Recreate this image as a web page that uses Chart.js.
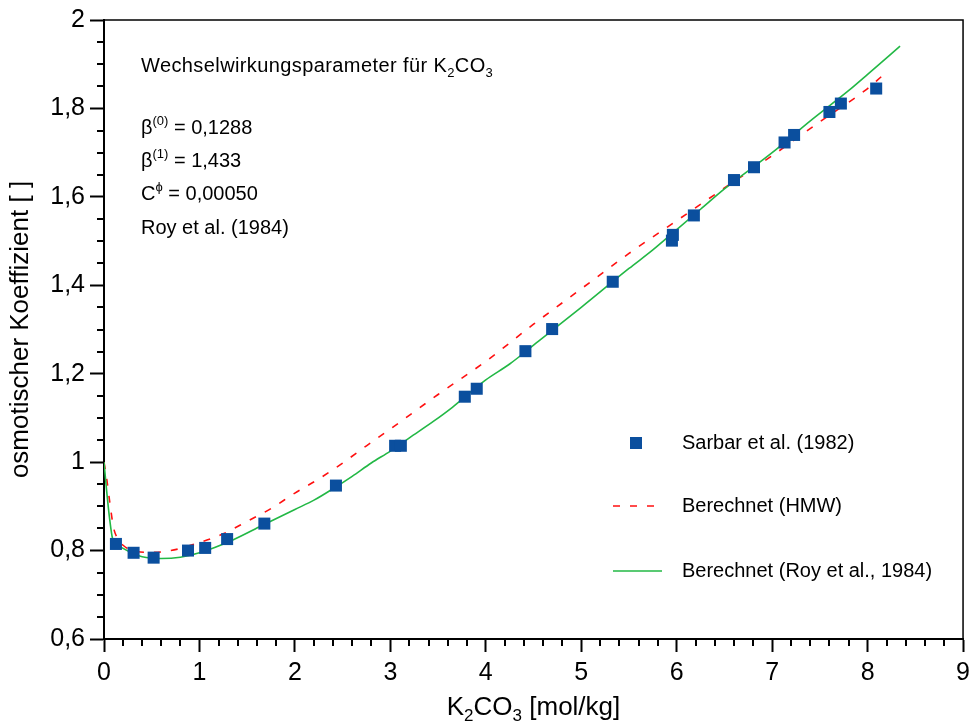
<!DOCTYPE html>
<html>
<head>
<meta charset="utf-8">
<script src="https://cdn.jsdelivr.net/npm/chart.js@4.4.1/dist/chart.umd.min.js"></script>
<style>
  html, body { margin: 0; padding: 0; background: #fff; }
</style>
</head>
<body>
<canvas id="chart" width="976" height="724"></canvas>
<script>
// ===== data
const sarbarX = [0.125, 0.31, 0.52, 0.88, 1.06, 1.29, 1.68, 2.43, 3.05, 3.11, 3.78, 3.905, 4.415, 4.695, 5.33, 5.95, 5.96, 6.18, 6.60, 6.81, 7.13, 7.23, 7.60, 7.72, 8.09];
const sarbarY = [0.815, 0.795, 0.784, 0.800, 0.806, 0.826, 0.861, 0.947, 1.037, 1.037, 1.148, 1.166, 1.251, 1.301, 1.408, 1.501, 1.514, 1.558, 1.638, 1.667, 1.723, 1.740, 1.792, 1.811, 1.845];

const hmwX = [0, 0.03, 0.06, 0.1, 0.15, 0.2, 0.3, 0.5, 0.7, 1.0, 1.25, 1.5, 1.75, 2.0, 2.25, 2.5, 2.75, 3.0, 3.5, 4.0, 4.5, 5.0, 5.5, 6.0, 6.5, 7.0, 7.5, 8.0, 8.15];
const hmwY = [1.0, 0.96, 0.91, 0.852, 0.825, 0.812, 0.800, 0.796, 0.800, 0.818, 0.838, 0.866, 0.895, 0.930, 0.962, 0.998, 1.037, 1.075, 1.153, 1.228, 1.312, 1.392, 1.472, 1.546, 1.620, 1.693, 1.770, 1.845, 1.873];

const royX = [0, 0.03, 0.06, 0.09, 0.15, 0.2, 0.3, 0.4, 0.6, 0.8, 1.0, 1.35, 1.65, 2.0, 2.2, 2.4, 2.6, 2.8, 3.0, 3.2, 3.45, 3.65, 4.0, 4.25, 4.55, 5.0, 5.5, 5.75, 6.0, 6.25, 6.5, 7.0, 7.4, 7.8, 8.0, 8.34];
const royY = [1.0, 0.93, 0.87, 0.827, 0.812, 0.805, 0.794, 0.786, 0.782, 0.785, 0.795, 0.824, 0.856, 0.893, 0.914, 0.940, 0.968, 0.998, 1.025, 1.055, 1.092, 1.124, 1.186, 1.222, 1.273, 1.350, 1.438, 1.480, 1.526, 1.572, 1.618, 1.700, 1.772, 1.840, 1.877, 1.941];

const legendLabels = ["Sarbar et al. (1982)", "Berechnet (HMW)", "Berechnet (Roy et al., 1984)"];

const xMin = 0, xMax = 9, xStep = 0.2;
const yMin = 0.6, yMax = 2, yStep = 0.05;

const BLUE = "#0B4F9E";
const RED = "#FF1010";
const GREEN = "#22B845";
const FONT = "'Liberation Sans', Arial, sans-serif";

const toPts = (xs, ys) => xs.map((x, i) => ({ x, y: ys[i] }));

// ===== helpers
const isMajorX = (v) => Math.abs(v - Math.round(v)) < 1e-6;
const isMajorY = (v) => Math.abs(v * 5 - Math.round(v * 5)) < 1e-6;
const fmtY = (v) => String(Math.round(v * 10) / 10).replace(".", ",");

// draw a row of text pieces: [text, size, dy]
function drawRuns(ctx, x, y, runs, align, spacing) {
    ctx.letterSpacing = (spacing || 0) + "px";
    const widths = runs.map(([t, s]) => {
        ctx.font = s + "px " + FONT;
        return ctx.measureText(t).width;
    });
    const total = widths.reduce((a, b) => a + b, 0);
    let cx = align === "center" ? x - total / 2 : x;
    ctx.textAlign = "left";
    ctx.textBaseline = "alphabetic";
    runs.forEach(([t, s, dy], i) => {
        ctx.font = s + "px " + FONT;
        ctx.fillText(t, cx, y + (dy || 0));
        cx += widths[i];
    });
    ctx.letterSpacing = "0px";
}

// ===== extras: minor ticks, frame, notes, legend, x title
const extras = {
    id: "extras",
    afterDraw(chart) {
        const { ctx, chartArea: a, scales } = chart;
        ctx.save();
        ctx.strokeStyle = "#000";

        // minor ticks
        ctx.lineWidth = 2;
        ctx.beginPath();
        scales.x.ticks.forEach((t) => {
            if (isMajorX(t.value)) return;
            const px = Math.round(scales.x.getPixelForValue(t.value));
            ctx.moveTo(px, a.bottom);
            ctx.lineTo(px, a.bottom + 7);
        });
        scales.y.ticks.forEach((t) => {
            if (isMajorY(t.value)) return;
            const py = Math.round(scales.y.getPixelForValue(t.value));
            ctx.moveTo(a.left, py);
            ctx.lineTo(a.left - 7, py);
        });
        ctx.stroke();

        // top + right frame
        ctx.lineWidth = 1.5;
        ctx.beginPath();
        ctx.moveTo(a.left, a.top);
        ctx.lineTo(a.right, a.top);
        ctx.lineTo(a.right, a.bottom);
        ctx.stroke();

        // parameter notes
        ctx.fillStyle = "#000";
        drawRuns(ctx, 141, 72, [["Wechselwirkungsparameter für K", 20], ["2", 13, 5], ["CO", 20], ["3", 13, 5]], "left", 0.4);
        drawRuns(ctx, 141, 134, [["β", 20], ["(0)", 13, -9], [" = 0,1288", 20]]);
        drawRuns(ctx, 141, 167, [["β", 20], ["(1)", 13, -9], [" = 1,433", 20]]);
        drawRuns(ctx, 141, 200, [["C", 20], ["ϕ", 13, -9], [" = 0,00050", 20]]);
        drawRuns(ctx, 141, 234, [["Roy et al. (1984)", 20]]);

        // legend
        const ds = chart.data.datasets;
        const rows = [443, 506, 571];
        ctx.fillStyle = ds[0].backgroundColor;
        ctx.fillRect(630, rows[0] - 6, 12, 12);
        [1, 2].forEach((k) => {
            ctx.beginPath();
            ctx.strokeStyle = ds[k].borderColor;
            ctx.lineWidth = ds[k].borderWidth;
            ctx.setLineDash(ds[k].borderDash || []);
            ctx.moveTo(613, rows[k]);
            ctx.lineTo(662, rows[k]);
            ctx.stroke();
        });
        ctx.setLineDash([]);
        ctx.fillStyle = "#000";
        ctx.font = "20px " + FONT;
        ctx.textAlign = "left";
        ctx.textBaseline = "middle";
        legendLabels.forEach((lbl, i) => ctx.fillText(lbl, 682, rows[i]));

        // x axis title with subscripts
        drawRuns(ctx, (a.left + a.right) / 2, 715,
            [["K", 26], ["2", 17, 6], ["CO", 26], ["3", 17, 6], [" [mol/kg]", 26]], "center");

        ctx.restore();
    },
};

Chart.defaults.font.family = FONT;
Chart.defaults.color = "#000";

new Chart(document.getElementById("chart"), {
    type: "line",
    data: {
        datasets: [
            {
                label: legendLabels[0],
                data: toPts(sarbarX, sarbarY),
                showLine: false,
                pointStyle: "rect",
                pointRadius: 8.5,
                pointBorderWidth: 0,
                backgroundColor: BLUE,
                pointBackgroundColor: BLUE,
                order: 0,
            },
            {
                label: legendLabels[1],
                data: toPts(hmwX, hmwY),
                borderColor: RED,
                borderWidth: 1.6,
                borderDash: [7, 10],
                pointRadius: 0,
                cubicInterpolationMode: "monotone",
                order: 2,
            },
            {
                label: legendLabels[2],
                data: toPts(royX, royY),
                borderColor: GREEN,
                borderWidth: 1.6,
                pointRadius: 0,
                cubicInterpolationMode: "monotone",
                order: 1,
            },
        ],
    },
    options: {
        responsive: false,
        animation: false,
        events: [],
        layout: { padding: { top: 19, right: 11, left: 0, bottom: 0 } },
        plugins: { legend: { display: false }, tooltip: { enabled: false } },
        scales: {
            x: {
                type: "linear",
                min: xMin,
                max: xMax,
                afterFit: (s) => { s.height = 85; },
                border: { display: true, color: "#000", width: 2 },
                grid: {
                    drawOnChartArea: false,
                    drawTicks: true,
                    tickLength: 13,
                    tickWidth: 2,
                    tickColor: (c) => (c.tick && isMajorX(c.tick.value) ? "#000" : "rgba(0,0,0,0)"),
                },
                ticks: {
                    stepSize: xStep,
                    autoSkip: false,
                    maxRotation: 0,
                    padding: 6,
                    font: { size: 25 },
                    color: "#000",
                    callback: (v) => (isMajorX(v) ? String(Math.round(v)) : ""),
                },
            },
            y: {
                type: "linear",
                min: yMin,
                max: yMax,
                afterFit: (s) => { s.width = 104; },
                border: { display: true, color: "#000", width: 2 },
                grid: {
                    drawOnChartArea: false,
                    drawTicks: true,
                    tickLength: 14,
                    tickWidth: 2,
                    tickColor: (c) => (c.tick && isMajorY(c.tick.value) ? "#000" : "rgba(0,0,0,0)"),
                },
                ticks: {
                    stepSize: yStep,
                    autoSkip: false,
                    padding: 5,
                    font: { size: 25 },
                    color: "#000",
                    callback: (v) => (isMajorY(v) ? fmtY(v) : ""),
                },
                title: {
                    display: true,
                    text: "osmotischer Koeffizient [ ]",
                    font: { size: 26 },
                    color: "#000",
                    padding: { top: 5, bottom: 0 },
                },
            },
        },
    },
    plugins: [extras],
});
</script>
</body>
</html>
